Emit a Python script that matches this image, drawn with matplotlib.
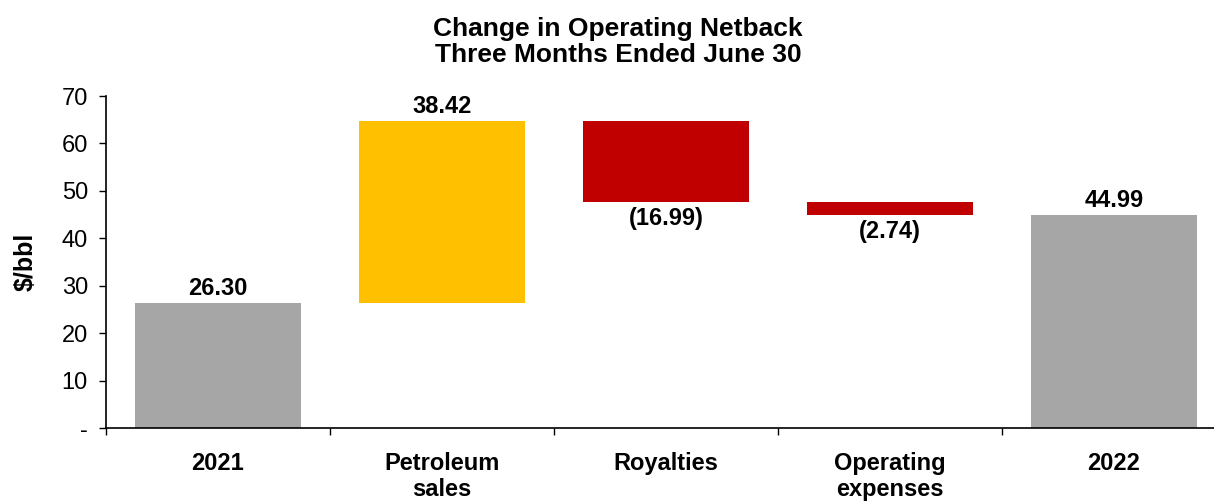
import matplotlib.pyplot as plt
import numpy as np

plt.rcParams['font.family'] = ['Liberation Sans', 'DejaVu Sans']

categories = ['2021', 'Petroleum\nsales', 'Royalties', 'Operating\nexpenses', '2022']
changes = [26.30, 38.42, -16.99, -2.74, 44.99]
kinds = ['total', 'delta', 'delta', 'delta', 'total']
value_labels = ['26.30', '38.42', '(16.99)', '(2.74)', '44.99']
colors = {'total': '#A6A6A6', 'up': '#FFC000', 'down': '#C00000'}

# waterfall bottoms / heights
bottoms, heights, cols = [], [], []
running = 0.0
for v, k in zip(changes, kinds):
    if k == 'total':
        bottoms.append(0)
        heights.append(v)
        cols.append(colors['total'])
        running = v
    else:
        bottoms.append(min(running, running + v))
        heights.append(abs(v))
        cols.append(colors['up'] if v > 0 else colors['down'])
        running += v

fig = plt.figure(figsize=(12.14, 5.01), dpi=100)
ax = fig.add_axes([106 / 1214, 73 / 501, 1120 / 1214, 332 / 501])

x = np.arange(len(categories))
ax.bar(x, heights, bottom=bottoms, width=0.74, color=cols)

for i, (b, h, lab) in enumerate(zip(bottoms, heights, value_labels)):
    if changes[i] >= 0:
        ax.annotate(lab, (x[i], b + h), xytext=(0, 2), textcoords='offset points',
                    ha='center', va='bottom', fontsize=17, fontweight='bold')
    else:
        ax.annotate(lab, (x[i], b), xytext=(0, -4), textcoords='offset points',
                    ha='center', va='top', fontsize=17, fontweight='bold')

ax.set_xlim(-0.5, 4.5)
ax.set_ylim(0, 70)
ax.set_yticks(range(0, 71, 10))
ax.set_yticklabels(['-' if t == 0 else str(t) for t in range(0, 71, 10)], fontsize=17)
ax.tick_params(axis='y', direction='out', length=5, width=1, pad=8)

# category boundaries as ticks, labels at centres
ax.set_xticks(np.arange(-0.5, 5, 1))
ax.set_xticklabels([])
ax.set_xticks(x, minor=True)
ax.set_xticklabels(categories, minor=True, fontsize=17, fontweight='bold', linespacing=1.2)
ax.tick_params(axis='x', which='major', direction='out', length=5, width=1)
ax.tick_params(axis='x', which='minor', length=0, pad=17)

for s in ['top', 'right']:
    ax.spines[s].set_visible(False)
ax.spines['left'].set_linewidth(1.2)
ax.spines['bottom'].set_linewidth(1.2)

fig.text(26 / 1214, 1 - 262 / 501, '$/bbl', rotation=90, ha='center', va='center',
         fontsize=18, fontweight='bold')
fig.text(618 / 1214, 1 - 42 / 501, 'Change in Operating Netback\nThree Months Ended June 30',
         ha='center', va='center', fontsize=19, fontweight='bold', linespacing=1.1)

fig.savefig('out.png', dpi=100)
